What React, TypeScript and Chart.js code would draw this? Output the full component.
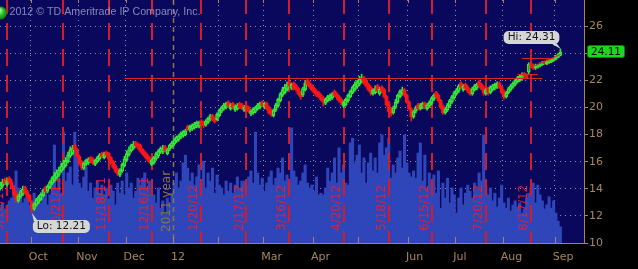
import React, { useEffect, useRef } from 'react';
import { Chart, registerables } from 'chart.js';

Chart.register(...registerables);

// ---------- calendar ----------
const START_DATE = '2011-09-13';
const HOLIDAYS = ['2011-11-24', '2011-12-26', '2012-01-02', '2012-01-16', '2012-02-20', '2012-04-06', '2012-05-28', '2012-07-04', '2012-09-03'];
const CALENDAR_DAYS = 262;

// ---------- daily OHLC (from 2011-09-13 to 2012-09-06) ----------
const opens = [
  14.0, 14.2, 14.7,
  14.3, 14.8, 14.5, 14.1, 13.7,
  13.1, 13.4, 13.6, 14.1, 13.8,
  13.5, 13.0, 12.5, 12.8, 13.0,
  13.2, 13.5, 14.1, 13.8, 14.1,
  14.4, 14.6, 14.8, 15.0, 15.3,
  15.5, 15.7, 16.0, 16.4, 16.6,
  17.2, 16.9, 16.4, 16.0, 15.5,
  15.8, 15.9, 16.3, 16.2, 15.8,
  16.0, 16.2, 16.6, 16.3, 16.7,
  16.6, 16.3, 16.0, 15.7, 15.4,
  15.0, 15.3, 15.7, 16.1, 16.5,
  16.8, 17.0, 17.4, 17.3, 17.2,
  16.9, 16.7, 16.5, 16.3, 15.8,
  15.9, 16.2, 16.4, 16.7, 16.7,
  17.1, 16.6, 16.9, 17.1, 17.3,
  17.5, 17.6, 17.8, 17.9, 18.0,
  18.6, 18.3, 18.4, 18.5, 18.6,
  18.6, 19.0, 18.9, 18.7, 18.9,
  19.1, 19.4, 19.2, 19.1, 19.4,
  19.7, 19.9, 20.0, 20.4, 19.9,
  20.3, 19.8, 19.9, 20.3, 20.2,
  19.8, 20.1, 20.0, 19.5, 19.6,
  19.7, 19.9, 20.0, 20.4, 20.0,
  20.3, 20.0, 19.8, 19.4, 19.8,
  20.1, 20.5, 20.9, 21.1, 21.3,
  21.9, 21.4, 21.8, 21.6, 21.4,
  21.1, 20.9, 21.3, 22.0, 21.8,
  21.6, 21.4, 21.2, 21.1, 20.9,
  20.7, 20.3, 20.5, 20.6, 20.7,
  21.2, 21.0, 20.8, 20.6, 20.1,
  20.2, 20.5, 20.8, 21.1, 21.3,
  21.5, 21.7, 21.9, 22.2, 22.0,
  21.7, 21.5, 21.0, 21.1, 21.6,
  21.0, 21.5, 21.3, 20.8, 20.3,
  19.9, 19.6, 20.0, 20.4, 20.8,
  21.0, 21.3, 20.9, 20.4, 19.9,
  19.3, 19.7, 20.2, 19.9, 20.0,
  20.3, 19.9, 20.1, 20.3, 20.6,
  21.1, 20.9, 20.5, 20.1, 19.6,
  19.8, 20.1, 20.4, 20.7, 21.0,
  21.2, 21.8, 21.3, 21.7, 21.5,
  21.3, 21.0, 21.3, 21.4, 21.9,
  21.7, 21.5, 21.0, 21.4, 21.1,
  21.3, 21.4, 21.5, 21.8, 21.5,
  21.2, 20.8, 21.1, 21.3, 21.5,
  21.7, 21.9, 22.0, 22.1, 22.5,
  22.4, 22.6, 23.25, 23.1, 22.9,
  22.95, 23.05, 23.15, 23.4, 23.2,
  23.3, 23.35, 23.45, 23.55, 23.7, 23.85,
];
const highs = [
  14.5, 14.7, 14.8,
  14.8, 14.9, 14.7, 14.2, 13.8,
  13.6, 13.9, 14.2, 14.2, 13.9,
  13.6, 13.1, 13.0, 13.3, 13.5,
  13.7, 14.0, 14.2, 14.3, 14.6,
  14.9, 15.2, 15.4, 15.6, 15.9,
  16.1, 16.3, 16.7, 17.1, 17.2,
  17.3, 17.0, 16.5, 16.1, 16.0,
  16.2, 16.3, 16.4, 16.3, 16.2,
  16.4, 16.6, 16.7, 16.7, 16.8,
  16.7, 16.4, 16.1, 15.8, 15.5,
  15.5, 15.9, 16.4, 16.8, 17.1,
  17.3, 17.5, 17.5, 17.4, 17.3,
  17.0, 16.8, 16.6, 16.4, 16.2,
  16.4, 16.7, 16.9, 17.1, 17.2,
  17.2, 17.0, 17.3, 17.5, 17.7,
  17.9, 18.0, 18.2, 18.3, 18.4,
  18.7, 18.7, 18.8, 18.9, 19.0,
  19.0, 19.1, 19.0, 19.1, 19.3,
  19.5, 19.5, 19.3, 19.6, 19.9,
  20.1, 20.3, 20.4, 20.5, 20.3,
  20.4, 20.2, 20.3, 20.4, 20.3,
  20.15, 20.2, 20.1, 19.85, 20.0,
  20.1, 20.3, 20.4, 20.5, 20.4,
  20.4, 20.1, 19.9, 19.9, 20.3,
  20.7, 21.1, 21.5, 21.7, 21.9,
  22.0, 21.8, 21.9, 21.7, 21.5,
  21.2, 21.5, 22.0, 22.1, 21.9,
  21.7, 21.5, 21.3, 21.2, 21.0,
  20.8, 20.7, 20.9, 21.0, 21.1,
  21.3, 21.1, 20.9, 20.7, 20.5,
  20.7, 21.0, 21.3, 21.6, 21.9,
  22.0, 22.3, 22.45, 22.3, 22.1,
  21.8, 21.6, 21.4, 21.6, 21.7,
  21.5, 21.6, 21.4, 20.9, 20.4,
  20.0, 20.1, 20.6, 21.0, 21.3,
  21.5, 21.4, 21.0, 20.5, 20.0,
  19.8, 20.1, 20.3, 20.3, 20.4,
  20.4, 20.3, 20.5, 20.8, 21.0,
  21.2, 21.0, 20.6, 20.2, 20.0,
  20.3, 20.6, 20.9, 21.2, 21.4,
  21.7, 21.9, 21.7, 21.8, 21.6,
  21.4, 21.5, 21.7, 21.8, 22.0,
  21.8, 21.6, 21.4, 21.5, 21.6,
  21.7, 21.8, 21.9, 21.9, 21.6,
  21.3, 21.2, 21.5, 21.7, 21.9,
  22.1, 22.3, 22.4, 22.55, 22.6,
  22.5, 23.3, 23.35, 23.2, 23.2,
  23.2, 23.3, 23.4, 23.45, 23.5,
  23.55, 23.6, 23.7, 23.85, 24.0, 24.31,
];
const lows = [
  13.9, 14.1, 14.3,
  14.2, 14.4, 14.0, 13.5, 13.0,
  13.0, 13.3, 13.5, 13.6, 13.3,
  13.0, 12.21, 12.4, 12.7, 12.9,
  13.1, 13.4, 13.7, 13.7, 14.0,
  14.3, 14.5, 14.7, 14.9, 15.2,
  15.4, 15.6, 15.9, 16.3, 16.5,
  16.8, 16.3, 15.8, 15.4, 15.4,
  15.7, 15.8, 15.9, 15.8, 15.7,
  15.9, 16.1, 16.3, 16.2, 16.4,
  16.1, 15.8, 15.5, 15.2, 14.97,
  14.9, 15.2, 15.6, 16.0, 16.4,
  16.7, 16.9, 17.0, 16.9, 16.7,
  16.5, 16.3, 16.1, 15.9, 15.7,
  15.8, 16.1, 16.3, 16.6, 16.6,
  16.7, 16.5, 16.8, 17.0, 17.2,
  17.4, 17.5, 17.7, 17.8, 17.9,
  18.3, 18.2, 18.3, 18.4, 18.5,
  18.5, 18.6, 18.5, 18.6, 18.8,
  19.0, 19.0, 18.85, 19.0, 19.3,
  19.6, 19.8, 19.9, 20.0, 19.8,
  19.9, 19.7, 19.8, 19.9, 19.85,
  19.7, 19.75, 19.6, 19.4, 19.5,
  19.6, 19.8, 19.9, 20.05, 19.9,
  19.8, 19.5, 19.35, 19.3, 19.7,
  20.0, 20.4, 20.8, 21.0, 21.2,
  21.5, 21.3, 21.3, 21.2, 20.9,
  20.6, 20.8, 21.2, 21.6, 21.4,
  21.2, 21.0, 20.8, 20.7, 20.5,
  20.1, 20.2, 20.4, 20.5, 20.6,
  20.8, 20.6, 20.4, 20.2, 20.0,
  20.1, 20.4, 20.7, 21.0, 21.2,
  21.4, 21.6, 21.8, 21.7, 21.5,
  21.2, 20.9, 20.9, 21.0, 21.1,
  20.9, 21.1, 20.7, 20.1, 19.6,
  19.35, 19.5, 19.9, 20.3, 20.7,
  20.9, 20.8, 20.3, 19.8, 19.0,
  19.2, 19.6, 19.8, 19.8, 19.9,
  19.9, 19.8, 20.0, 20.2, 20.5,
  20.7, 20.4, 19.9, 19.5, 19.5,
  19.7, 20.0, 20.3, 20.6, 20.9,
  21.1, 21.4, 21.2, 21.3, 21.1,
  20.9, 20.9, 21.2, 21.3, 21.5,
  21.3, 20.9, 20.9, 20.9, 21.0,
  21.2, 21.3, 21.4, 21.4, 21.0,
  20.6, 20.7, 21.0, 21.2, 21.4,
  21.6, 21.8, 21.9, 22.0, 22.25,
  22.1, 22.5, 22.95, 22.8, 22.8,
  22.9, 23.0, 23.1, 23.15, 23.15,
  23.25, 23.3, 23.4, 23.5, 23.65, 23.8,
];
const closes = [
  14.3, 14.5, 14.4,
  14.6, 14.5, 14.1, 13.6, 13.2,
  13.5, 13.8, 14.0, 13.7, 13.4,
  13.1, 12.5, 12.9, 13.2, 13.4,
  13.6, 13.9, 13.8, 14.2, 14.5,
  14.8, 15.0, 15.2, 15.4, 15.7,
  15.9, 16.1, 16.5, 16.9, 17.0,
  16.9, 16.4, 15.9, 15.6, 15.9,
  16.1, 16.2, 16.0, 15.9, 16.1,
  16.3, 16.5, 16.4, 16.6, 16.5,
  16.2, 15.9, 15.6, 15.3, 15.1,
  15.4, 15.8, 16.2, 16.6, 16.9,
  17.2, 17.3, 17.2, 17.1, 16.8,
  16.6, 16.4, 16.2, 16.0, 16.1,
  16.3, 16.6, 16.8, 17.0, 17.0,
  16.8, 16.9, 17.2, 17.4, 17.6,
  17.8, 17.9, 18.1, 18.2, 18.3,
  18.4, 18.6, 18.7, 18.8, 18.9,
  18.9, 18.7, 18.65, 19.0, 19.2,
  19.4, 19.1, 18.95, 19.5, 19.8,
  20.0, 20.2, 20.3, 20.1, 20.2,
  20.0, 20.1, 20.2, 20.0, 19.95,
  20.05, 19.85, 19.7, 19.75, 19.9,
  20.0, 20.2, 20.3, 20.15, 20.3,
  19.9, 19.6, 19.5, 19.8, 20.2,
  20.6, 21.0, 21.3, 21.5, 21.7,
  21.6, 21.7, 21.4, 21.3, 21.0,
  20.8, 21.4, 21.8, 21.7, 21.5,
  21.3, 21.1, 20.9, 20.8, 20.6,
  20.4, 20.6, 20.8, 20.9, 21.0,
  20.9, 20.75, 20.5, 20.35, 20.4,
  20.6, 20.9, 21.2, 21.5, 21.7,
  21.9, 22.1, 22.2, 21.8, 21.6,
  21.3, 21.1, 21.3, 21.4, 21.2,
  21.35, 21.2, 20.8, 20.2, 19.7,
  19.55, 20.0, 20.4, 20.9, 21.2,
  21.3, 20.9, 20.4, 19.9, 19.3,
  19.7, 20.0, 19.9, 20.2, 20.3,
  20.0, 20.2, 20.4, 20.7, 20.9,
  20.8, 20.5, 20.0, 19.6, 19.9,
  20.2, 20.5, 20.8, 21.1, 21.3,
  21.6, 21.5, 21.6, 21.4, 21.2,
  21.0, 21.4, 21.6, 21.7, 21.6,
  21.4, 21.1, 21.3, 21.1, 21.5,
  21.6, 21.7, 21.8, 21.5, 21.1,
  20.8, 21.1, 21.4, 21.6, 21.8,
  22.0, 22.2, 22.3, 22.4, 22.35,
  22.2, 23.2, 23.05, 22.9, 23.1,
  23.1, 23.2, 23.3, 23.25, 23.4,
  23.45, 23.5, 23.6, 23.75, 23.9, 24.11,
];
// volume, millions of shares
const volumes = [
  8.9, 9.9, 8.4,
  9.4, 10.4, 11.1, 14.3, 17.8,
  13.6, 11.9, 9.9, 11.1, 12.3,
  9.4, 10.4, 12.3, 9.4, 11.1,
  9.9, 11.4, 12.8, 9.4, 11.9,
  14.8, 24.2, 13.6, 16.0, 12.3,
  27.4, 15.3, 17.3, 18.8, 14.3,
  27.4, 21.0, 14.8, 13.6, 16.3,
  18.8, 12.8, 14.8, 11.1, 13.6,
  15.3, 12.3, 14.3, 11.9, 13.6,
  10.9, 14.3, 12.8, 9.4, 14.8,
  12.3, 15.3, 11.9, 17.3, 13.6,
  14.8, 11.1, 12.8, 16.0, 14.3,
  16.0, 17.3, 13.6, 15.3, 12.3,
  11.9, 9.9, 13.6, 8.6, 10.4,
  7.4, 11.1, 9.4, 12.3, 14.8,
  17.3, 13.6, 15.3, 19.8, 21.7,
  18.5, 15.3, 17.3, 14.3, 16.3,
  19.3, 14.8, 20.2, 13.6, 17.3,
  15.3, 18.5, 12.3, 16.8, 14.3,
  13.6, 11.9, 15.3, 12.8, 14.8,
  12.3, 14.3, 16.3, 13.3, 15.3,
  15.3, 14.3, 16.3, 17.8, 14.8,
  27.4, 17.3, 14.3, 16.0, 12.8,
  14.8, 16.3, 17.8, 14.3, 16.0,
  18.5, 17.3, 21.0, 15.3, 16.8,
  14.8, 28.4, 17.8, 16.3, 14.3,
  15.3, 17.3, 19.3, 14.8, 13.6,
  14.3, 12.8, 16.3, 11.9, 12.3,
  11.9, 13.6, 18.5, 15.3, 17.3,
  21.0, 14.8, 23.5, 17.3, 19.3,
  14.8, 14.3, 24.7, 25.9, 19.8,
  21.7, 24.2, 17.3, 21.0, 14.8,
  19.8, 22.2, 17.8, 21.0, 17.3,
  24.7, 26.7, 21.7, 23.5, 25.9,
  16.0, 19.3, 17.3, 21.0, 22.7,
  18.5, 26.7, 19.8, 17.3, 16.3,
  17.8, 16.0, 22.2, 24.7, 15.3,
  21.7, 13.6, 17.3, 14.8, 16.8,
  12.3, 17.8, 8.6, 14.8, 11.1,
  16.0, 9.9, 13.6, 11.9, 7.4,
  11.1, 13.6, 9.4, 12.3, 14.3,
  12.8, 11.1, 14.8, 13.6, 17.3,
  15.3, 26.7, 14.3, 11.9, 13.6,
  10.4, 12.3, 8.9, 11.1, 14.3,
  9.9, 8.6, 11.1, 7.9, 9.4,
  10.4, 8.9, 9.9, 7.4, 8.4,
  11.1, 12.3, 13.6, 14.8, 9.9,
  14.3, 11.9, 10.4, 8.4, 9.4,
  11.4, 8.6, 10.4, 7.4, 5.4, 4.0,
];

// ---------- axes, markers, annotations ----------
const monthTickDates = ['2011-10-03', '2011-11-01', '2011-12-01', '2012-01-03', '2012-02-01', '2012-03-01', '2012-04-02', '2012-05-01', '2012-06-01', '2012-07-02', '2012-08-01', '2012-09-04'];
const monthTickLabels = ['Oct', 'Nov', 'Dec', '12', '', 'Mar', 'Apr', '', 'Jun', 'Jul', 'Aug', 'Sep'];
const expiryDates = ['2011-09-16', '2011-10-21', '2011-11-18', '2011-12-16', '2012-01-20', '2012-02-17', '2012-03-16', '2012-04-20', '2012-05-18', '2012-06-15', '2012-07-20', '2012-08-17'];
const expiryLabels = ['9/16/11', '10/21/11', '11/18/11', '12/16/11', '1/20/12', '2/17/12', '3/16/12', '4/20/12', '5/18/12', '6/15/12', '7/20/12', '8/17/12'];
const yearStartDate = '2012-01-03';
const yearLabel = '2011 year';
const priceTicks = [10, 12, 14, 16, 18, 20, 22, 24, 26];
const lineFrom = ['2011-11-30', '2012-08-09', '2012-08-13', '2012-08-16'];
const lineTo = ['2012-08-24', '2012-08-22', '2012-08-31', '2012-09-06'];
const lineFromPrice = [22.14, 22.49, 23.62, 22.9];
const lineToPrice = [22.14, 22.49, 23.62, 23.93];
const hiDate = '2012-09-06';
const hiValue = 24.31;
const loDate = '2011-10-03';
const loValue = 12.21;
const lastValue = 24.11;
const watermark = '2012 \u00A9 TD Ameritrade IP Company, Inc.';

// ---------- styling ----------
const NAVY = 'rgb(10,8,92)';
const GREEN = 'rgb(55,230,55)';
const RED = 'rgb(250,22,22)';
const VOL = 'rgb(47,70,186)';
const TAN = 'rgb(165,135,95)';
const YEAR_TAN = 'rgb(140,115,80)';
const DOT = 'rgba(175,175,195,0.8)';
const EXP_RED = 'rgb(212,28,40)';
const EXP_TEXT = 'rgb(225,32,50)';
const FONT = '"DejaVu Sans", sans-serif';
const X_MIN = -0.1;
const X_MAX = 258.9;

function tradingDays(start: string, count: number, holidays: string[]): string[] {
  const out: string[] = [];
  const d = new Date(start + 'T00:00:00Z');
  while (out.length < count) {
    const wd = d.getUTCDay();
    const iso = d.toISOString().slice(0, 10);
    if (wd !== 0 && wd !== 6 && !holidays.includes(iso)) out.push(iso);
    d.setUTCDate(d.getUTCDate() + 1);
  }
  return out;
}

export default function App() {
  const ref = useRef<HTMLCanvasElement>(null);

  useEffect(() => {
    document.body.style.margin = '0';
    document.body.style.background = '#000';
    const canvas = ref.current;
    if (!canvas) return;

    const dates = tradingDays(START_DATE, CALENDAR_DAYS, HOLIDAYS);
    const idx = (iso: string) => dates.indexOf(iso);
    const monthPos = monthTickDates.map((d) => idx(d) - 0.5);
    const yearPos = idx(yearStartDate) - 0.5;
    const isUp = (i: number) => closes[i] >= opens[i];
    const candleColor = (c: any) => (isUp(c.dataIndex) ? GREEN : RED);

    const volData = volumes.map((v, i) => ({ x: i, y: v }));
    const upperWick = highs.map((h, i) => ({ x: i, y: [Math.max(opens[i], closes[i]), h] }));
    const lowerWick = lows.map((l, i) => ({ x: i, y: [l, Math.min(opens[i], closes[i])] }));
    const bodyData = opens.map((o, i) => ({ x: i, y: [o, closes[i]] }));

    const seg = (ctx: CanvasRenderingContext2D, x1: number, y1: number, x2: number, y2: number) => {
      ctx.beginPath();
      ctx.moveTo(x1, y1);
      ctx.lineTo(x2, y2);
      ctx.stroke();
    };

    const overlay = {
      id: 'tosOverlay',
      beforeDraw(chart: any) {
        const { ctx, chartArea: a } = chart;
        ctx.save();
        ctx.fillStyle = '#000';
        ctx.fillRect(0, 0, chart.width, chart.height);
        ctx.fillStyle = NAVY;
        ctx.fillRect(a.left, a.top, a.right - a.left, a.bottom - a.top);
        ctx.restore();
      },
      beforeDatasetDraw(chart: any, args: any) {
        if (args.index !== 1) return;
        const { ctx, chartArea: a } = chart;
        const xs = chart.scales.x;
        ctx.save();
        ctx.beginPath();
        ctx.rect(a.left, a.top, a.right - a.left, a.bottom - a.top);
        ctx.clip();
        // year divider
        const yx = Math.round(xs.getPixelForValue(yearPos)) + 0.5;
        ctx.strokeStyle = YEAR_TAN;
        ctx.lineWidth = 1.5;
        ctx.setLineDash([5, 4]);
        seg(ctx, yx, a.top, yx, a.bottom);
        // option expiration lines
        ctx.strokeStyle = EXP_RED;
        ctx.lineWidth = 2;
        ctx.setLineDash([17, 9]);
        ctx.lineDashOffset = 3;
        expiryDates.forEach((d) => {
          const px = Math.round(xs.getPixelForValue(idx(d)));
          seg(ctx, px, a.top, px, a.bottom);
        });
        ctx.setLineDash([]);
        // rotated labels
        ctx.textAlign = 'left';
        ctx.textBaseline = 'middle';
        ctx.font = '12px ' + FONT;
        ctx.fillStyle = EXP_TEXT;
        expiryDates.forEach((d, i) => {
          const px = xs.getPixelForValue(idx(d));
          ctx.save();
          ctx.translate(px - 7, a.bottom - 12);
          ctx.rotate(-Math.PI / 2);
          ctx.fillText(expiryLabels[i], 0, 0);
          ctx.restore();
        });
        ctx.fillStyle = YEAR_TAN;
        ctx.save();
        ctx.translate(yx - 7, a.bottom - 11);
        ctx.rotate(-Math.PI / 2);
        ctx.fillText(yearLabel, 0, 0);
        ctx.restore();
        ctx.restore();
      },
      afterDatasetsDraw(chart: any) {
        const { ctx, chartArea: a } = chart;
        const xs = chart.scales.x;
        const ys = chart.scales.y;
        ctx.save();
        ctx.beginPath();
        ctx.rect(a.left, a.top, a.right - a.left, a.bottom - a.top);
        ctx.clip();
        // drawn trend / resistance lines
        ctx.strokeStyle = 'rgb(215,40,40)';
        ctx.lineWidth = 1;
        lineFrom.forEach((d, i) => {
          const x1 = xs.getPixelForValue(idx(d));
          const x2 = xs.getPixelForValue(idx(lineTo[i]));
          const y1 = Math.round(ys.getPixelForValue(lineFromPrice[i])) + 0.5;
          const y2 = Math.round(ys.getPixelForValue(lineToPrice[i])) + 0.5;
          seg(ctx, x1, y1, x2, y2);
        });
        // callouts
        ctx.font = '10.5px ' + FONT;
        ctx.textBaseline = 'middle';
        ctx.textAlign = 'left';
        const boxFill = 'rgb(214,214,214)';
        // Hi
        const hiText = 'Hi: ' + hiValue.toFixed(2);
        const hx = xs.getPixelForValue(idx(hiDate));
        const hy = ys.getPixelForValue(hiValue);
        const hw = ctx.measureText(hiText).width + 8;
        const hRight = hx - 1;
        const hBottom = hy - 5;
        ctx.fillStyle = boxFill;
        ctx.beginPath();
        ctx.roundRect(hRight - hw, hBottom - 13, hw, 13, 5);
        ctx.fill();
        ctx.beginPath();
        ctx.moveTo(hRight - 9, hBottom - 1);
        ctx.lineTo(hRight - 3, hBottom - 1);
        ctx.lineTo(hx + 0.5, hy);
        ctx.closePath();
        ctx.fill();
        ctx.fillStyle = 'rgb(20,20,20)';
        ctx.fillText(hiText, hRight - hw + 4, hBottom - 6.5);
        // Lo
        const loText = 'Lo: ' + loValue.toFixed(2);
        const lx = xs.getPixelForValue(idx(loDate));
        const ly = ys.getPixelForValue(loValue);
        const lw = ctx.measureText(loText).width + 8;
        const lLeft = lx + 1;
        const lTop = ly + 7;
        ctx.fillStyle = boxFill;
        ctx.beginPath();
        ctx.roundRect(lLeft, lTop, lw, 13, 5);
        ctx.fill();
        ctx.beginPath();
        ctx.moveTo(lLeft + 1, lTop + 1);
        ctx.lineTo(lLeft + 5, lTop + 1);
        ctx.lineTo(lx, ly);
        ctx.closePath();
        ctx.fill();
        ctx.fillStyle = 'rgb(20,20,20)';
        ctx.fillText(loText, lLeft + 4, lTop + 6.5);
        ctx.restore();

        // watermark
        ctx.save();
        ctx.font = '11px "Liberation Sans", sans-serif';
        const w0 = ctx.measureText(watermark).width;
        const fs = (11 * 191) / w0;
        ctx.font = fs.toFixed(2) + 'px "Liberation Sans", sans-serif';
        ctx.fillStyle = 'rgba(165,165,215,0.8)';
        ctx.textBaseline = 'middle';
        ctx.textAlign = 'left';
        ctx.fillText(watermark, a.left + 9.5, a.top + 12);
        // green status dot
        const g = ctx.createRadialGradient(a.left - 1, a.top + 10, 1, a.left + 0.5, a.top + 13, 7);
        g.addColorStop(0, 'rgb(170,255,170)');
        g.addColorStop(0.5, 'rgb(40,190,40)');
        g.addColorStop(1, 'rgb(10,110,10)');
        ctx.fillStyle = g;
        ctx.beginPath();
        ctx.arc(a.left + 0.5, a.top + 13, 6.5, 0, Math.PI * 2);
        ctx.fill();
        ctx.restore();
      },
      afterDraw(chart: any) {
        const { ctx, chartArea: a } = chart;
        const xs = chart.scales.x;
        const ys = chart.scales.y;
        ctx.save();
        // frame
        ctx.strokeStyle = TAN;
        ctx.lineWidth = 1;
        seg(ctx, a.left, a.bottom + 0.5, a.right, a.bottom + 0.5);
        seg(ctx, a.right - 0.5, a.top, a.right - 0.5, a.bottom + 1);
        // month tick marks (top and bottom)
        monthPos.forEach((v) => {
          const px = Math.round(xs.getPixelForValue(v)) + 0.5;
          seg(ctx, px, a.top, px, a.top + 3);
          seg(ctx, px, a.bottom - 6, px, a.bottom);
        });
        // last price tag
        const py = ys.getPixelForValue(lastValue);
        ctx.fillStyle = 'rgb(25,215,25)';
        ctx.strokeStyle = 'rgb(10,120,10)';
        ctx.beginPath();
        ctx.roundRect(a.right + 2.5, Math.round(py) - 6.5, 37, 12, 2);
        ctx.fill();
        ctx.stroke();
        ctx.fillStyle = '#000';
        ctx.font = '10.5px ' + FONT;
        ctx.textAlign = 'center';
        ctx.textBaseline = 'middle';
        ctx.fillText(lastValue.toFixed(2), a.right + 21, Math.round(py));
        ctx.restore();
      },
    };

    Chart.defaults.font.family = FONT;

    const chart = new Chart(canvas, {
      type: 'bar',
      data: {
        datasets: [
          {
            label: 'Volume',
            data: volData as any,
            yAxisID: 'yv',
            backgroundColor: VOL,
            barThickness: 2.4,
            grouped: false,
            order: 4,
          },
          {
            label: 'Upper wick',
            data: upperWick as any,
            yAxisID: 'y',
            backgroundColor: candleColor,
            barThickness: 1,
            grouped: false,
            order: 3,
          },
          {
            label: 'Lower wick',
            data: lowerWick as any,
            yAxisID: 'y',
            backgroundColor: candleColor,
            barThickness: 1,
            grouped: false,
            order: 2,
          },
          {
            label: 'Body',
            data: bodyData as any,
            yAxisID: 'y',
            backgroundColor: (c: any) => (isUp(c.dataIndex) ? 'rgba(0,0,0,0)' : RED),
            borderColor: candleColor,
            borderWidth: (c: any) => (isUp(c.dataIndex) ? 1 : 0),
            borderSkipped: false,
            barThickness: 3,
            minBarLength: 1,
            grouped: false,
            order: 1,
          },
        ],
      },
      options: {
        responsive: false,
        animation: false,
        events: [],
        layout: { padding: 0 },
        plugins: { legend: { display: false }, tooltip: { enabled: false } },
        scales: {
          x: {
            type: 'linear',
            min: X_MIN,
            max: X_MAX,
            offset: false,
            afterBuildTicks: (s: any) => {
              s.ticks = monthPos.map((v) => ({ value: v }));
            },
            afterFit: (s: any) => {
              s.height = 26;
              s.paddingLeft = 0;
              s.paddingRight = 0;
            },
            grid: {
              offset: false,
              drawTicks: false,
              lineWidth: 1,
              color: (c: any) => (c.tick && Math.abs(c.tick.value - yearPos) < 0.01 ? 'rgba(0,0,0,0)' : DOT),
            },
            border: { display: false, dash: [1, 4] },
            ticks: {
              autoSkip: false,
              maxRotation: 0,
              align: 'start',
              labelOffset: -2,
              padding: 8,
              color: TAN,
              font: { size: 11, family: FONT },
              callback: (_v: any, i: number) => monthTickLabels[i],
            },
          },
          y: {
            type: 'linear',
            position: 'right',
            min: 10,
            max: 27.93,
            afterBuildTicks: (s: any) => {
              s.ticks = priceTicks.map((v) => ({ value: v }));
            },
            afterFit: (s: any) => {
              s.width = 53;
              s.paddingTop = 0;
              s.paddingBottom = 0;
            },
            grid: {
              drawTicks: true,
              tickLength: 3,
              tickColor: TAN,
              lineWidth: 1,
              color: (c: any) => (c.tick && c.tick.value === 10 ? 'rgba(0,0,0,0)' : DOT),
            },
            border: { display: false, dash: [1, 4] },
            ticks: {
              padding: 1,
              color: TAN,
              font: { size: 11, family: FONT },
              callback: (v: any) => String(v),
            },
          },
          yv: {
            type: 'linear',
            display: false,
            min: 0,
            max: 60,
          },
        },
      } as any,
      plugins: [overlay as any],
    });

    return () => chart.destroy();
  }, []);

  return <canvas ref={ref} width={638} height={269} style={{ display: 'block' }} />;
}
